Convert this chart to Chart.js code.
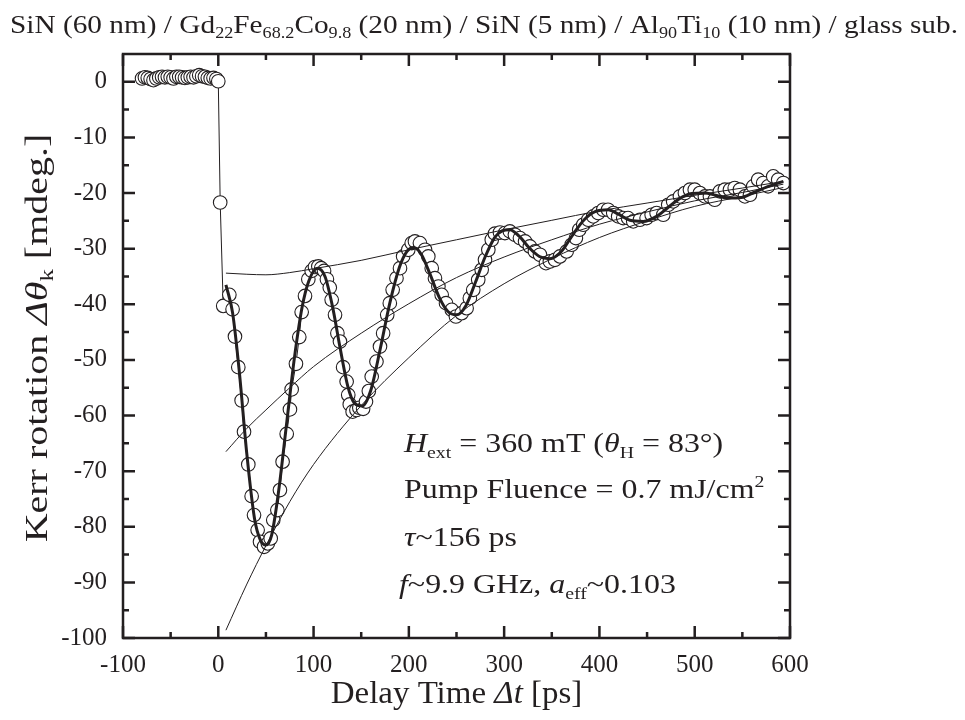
<!DOCTYPE html>
<html>
<head>
<meta charset="utf-8">
<script src="https://cdn.jsdelivr.net/npm/chart.js@4.4.0/dist/chart.umd.min.js"></script>
<style>
  html, body { margin: 0; padding: 0; background: #fff; }
  #wrap { width: 965px; height: 720px; }
</style>
</head>
<body>
<div id="wrap"><canvas id="kerr" width="965" height="720"></canvas></div>
<script>
// measured Kerr rotation (open circles)
const measX = [-80,-77,-74,-71,-68,-65,-62,-59,-56,-53,-50,-47,-44,-41,-38,-35,-32,-29,-26,-23,-20,-17,-14,-11,-8,-5,-2,0,
  2,5.2,11.6,15,17.5,21,24.5,27,31.5,35,37.5,41.3,43.8,48,52,55,57.7,62,64.7,67.5,71.8,75.2,77,81.5,85,87.5,91,94.5,98,101.5,105,108,111,114,117,119,122.5,125,127.7,131,134.7,136.4,138,141,145,148,152,155,158,
  161,166,169.7,173,177.3,180,183,187,190.7,194,199.4,203,206.4,211.6,217,220.4,224,227.4,231,234.4,239,245,249.4,255.4,260.6,264,267.6,272.8,276.4,279.9,283.4,287,290.3,295.6,300.8,306,311.3,316.6,322,327,332.3,337.6,343.9,
  348,353.3,358.6,365.6,370.8,375.3,378.8,383,388.3,393.5,398.7,404,409,414.5,419.7,425,430,435.5,442.5,449.5,454.8,460,467,472.2,477.4,484.5,489.7,495,500,505.4,510.7,516,521,526.4,531.6,537,542,547.4,552.7,558,561.4,566.6,571.9,577,582.4,587.6,593];
const measY = [0.6,0.8,0.7,0.5,0.3,0.6,0.8,0.9,0.8,0.9,0.8,0.6,0.9,0.9,0.8,0.7,0.8,0.9,0.8,1.0,1.2,1.0,0.9,0.7,0.6,0.7,0.5,0.1,
  -21.7,-40.3,-38.3,-40.9,-45.8,-51.3,-57.3,-62.9,-68.8,-74.5,-77.9,-80.6,-82.7,-83.6,-83,-82.1,-78.8,-77,-73.4,-68.3,-63.3,-58.9,-55.3,-50.7,-45.9,-41.4,-38.5,-35.5,-34,-33.3,-33.2,-33.5,-34,-35.5,-37,-39.2,-41.9,-45.2,-46.7,-51.3,-53.9,-56.3,-58,-59.3,-59,-58.6,-58.8,-57.5,-55.6,
  -53,-50.3,-47.6,-45.2,-41.9,-39.8,-37.4,-35.3,-33.5,-31.4,-30.2,-29,-28.7,-29,-30.2,-31.4,-33.5,-35.3,-36.8,-38.3,-39.8,-41,-42.2,-41.6,-40.7,-38.9,-37.4,-35.6,-33.8,-32,-30.2,-28.4,-27.3,-27.1,-27.2,-26.9,-27.5,-28.1,-28.7,-29.6,-30.5,-31.1,-32.6,
  -32.3,-32,-31.4,-30.5,-29.3,-28.1,-26.6,-25.7,-24.8,-24.2,-23.6,-23,-23,-23.6,-24.2,-24.5,-24.5,-25.1,-24.8,-24.5,-23.9,-23.6,-23.9,-22.1,-21.5,-20.6,-20,-19.4,-19.4,-20,-20.6,-20.6,-21.2,-19.7,-19.4,-19.4,-19.1,-19.4,-20.6,-20.3,-18.8,-17.6,-18.2,-18.8,-17,-17.6,-18.2];

// damped precession fit (thick line)
const fitX = [8,15,22,30,38,44,50,56,63,72,80,88,95,104,112,120,128,136,143,151,160,170,180,190,198,205,213,222,232,241,250,260,270,280,290,298,306,316,326,337,348,360,372,384,396,409,420,432,446,460,472,484,497,510,522,535,549,562,576,593];
const fitY = [-36.5,-41.5,-52,-67,-78.5,-82.3,-83.3,-81.5,-74,-61,-49.5,-40.5,-35.8,-33.5,-35,-40.5,-48,-54.8,-57.8,-58.3,-55.5,-48,-39.8,-33.4,-30.5,-29.8,-31,-34.5,-38.8,-41.3,-41.9,-40.2,-36,-31.5,-28,-26.8,-26.6,-27.8,-29.8,-31.4,-31.8,-30.5,-27.5,-24.8,-23.3,-23,-23.8,-24.9,-25.1,-24.2,-22.6,-21,-20.1,-20,-20.4,-20.9,-20.8,-19.9,-18.9,-17.9];

// envelopes and background (thin lines)
const envX = [8,30,50,75,100,150,200,250,300,350,400,450,500,550,593];
const upperY = [-34.4,-34.6,-34.7,-34.3,-33.6,-32.1,-30.2,-28.4,-26.6,-24.9,-23.2,-21.8,-20.4,-19.1,-17.9];
const centerY = [-66.5,-62.3,-59,-55,-51.2,-45.2,-39.9,-35.2,-31.5,-28.4,-25.6,-23.4,-21.4,-19.9,-18.4];
const lowerY = [-98.6,-90.3,-83.4,-75.5,-68.8,-58.2,-49.6,-42,-36.3,-31.8,-28,-25,-22.4,-20.6,-19];

const xTicks = [-100,0,100,200,300,400,500,600];
const xMinor = [-50,50,150,250,350,450,550];
const yTicks = [0,-10,-20,-30,-40,-50,-60,-70,-80,-90,-100];
const yMinor = [-5,-15,-25,-35,-45,-55,-65,-75,-85,-95];

const titleParts = [['SiN (60 nm) / Gd',''],['22','sub'],['Fe',''],['68.2','sub'],['Co',''],['9.8','sub'],[' (20 nm) / SiN (5 nm) / Al',''],['90','sub'],['Ti',''],['10','sub'],[' (10 nm) / glass sub.','']];
const noteLines = [
  [['H','i'],['ext','sub'],[' = 360 mT (',''],['θ','i'],['H','sub'],[' = 83°)','']],
  [['Pump Fluence = 0.7 mJ/cm',''],['2','sup']],
  [['τ','i'],['~156 ps','']],
  [['f','i'],['~9.9 GHz, ',''],['a','i'],['eff','sub'],['~0.103','']]
];
const xTitle = [['Delay Time ',''],['Δt','i'],[' [ps]','']];
const yTitle = [['Kerr rotation ',''],['Δθ','i'],['k','sub'],[' [mdeg.]','']];

const ink = '#231f20';
const serif = '"Liberation Serif", "Times New Roman", serif';

const pts = (xs, ys) => xs.map((x, i) => ({ x: x, y: ys[i] }));

function partFont(style, size) {
  const small = style === 'sub' || style === 'sup';
  return (style === 'i' ? 'italic ' : '') + (small ? size * 0.62 : size) + 'px ' + serif;
}

function richWidth(ctx, parts, size) {
  let w = 0;
  parts.forEach(p => { ctx.font = partFont(p[1], size); w += ctx.measureText(p[0]).width; });
  return w;
}

// draws mixed text at baseline (x, y); align 'left' or 'center'
function drawRich(ctx, parts, x, y, size, align, sx) {
  ctx.save();
  ctx.translate(x, y);
  ctx.scale(sx, 1);
  ctx.fillStyle = ink;
  ctx.textBaseline = 'alphabetic';
  ctx.textAlign = 'left';
  let cx = align === 'center' ? -richWidth(ctx, parts, size) / 2 : 0;
  parts.forEach(p => {
    ctx.font = partFont(p[1], size);
    let dy = 0;
    if (p[1] === 'sub') dy = size * 0.2;
    if (p[1] === 'sup') dy = -size * 0.38;
    ctx.fillText(p[0], cx, dy);
    cx += ctx.measureText(p[0]).width;
  });
  ctx.restore();
}

const framePlugin = {
  id: 'frame',
  afterDatasetsDraw(chart) {
    const { ctx, chartArea: a, scales: { x, y } } = chart;
    ctx.save();
    ctx.strokeStyle = ink;
    ctx.lineWidth = 2.5;
    ctx.beginPath();
    const xt = (v, len) => {
      const px = x.getPixelForValue(v);
      ctx.moveTo(px, a.bottom); ctx.lineTo(px, a.bottom - len);
      ctx.moveTo(px, a.top); ctx.lineTo(px, a.top + len);
    };
    const yt = (v, len) => {
      const py = y.getPixelForValue(v);
      ctx.moveTo(a.left, py); ctx.lineTo(a.left + len, py);
      ctx.moveTo(a.right, py); ctx.lineTo(a.right - len, py);
    };
    xTicks.forEach(v => xt(v, 12));
    xMinor.forEach(v => xt(v, 6));
    yTicks.forEach(v => yt(v, 12));
    yMinor.forEach(v => yt(v, 6));
    ctx.stroke();
    ctx.strokeRect(a.left, a.top, a.right - a.left, a.bottom - a.top);
    ctx.restore();
  }
};

const textPlugin = {
  id: 'texts',
  afterDraw(chart) {
    const ctx = chart.ctx;
    const a = chart.chartArea;
    // heading across the top
    const tw = richWidth(ctx, titleParts, 26);
    drawRich(ctx, titleParts, 10, 33, 26, 'left', 948 / tw);
    // parameters box
    const base = [452, 498, 546, 593];
    noteLines.forEach((ln, i) => drawRich(ctx, ln, i === 3 ? 399 : 404, base[i], 28, 'left', 1.14));
    // axis titles
    drawRich(ctx, xTitle, (a.left + a.right) / 2, 703, 32, 'center', 1.03);
    ctx.save();
    ctx.translate(47, 338);
    ctx.rotate(-Math.PI / 2);
    drawRich(ctx, yTitle, 0, 0, 32, 'center', 1.25);
    ctx.restore();
  }
};

new Chart(document.getElementById('kerr'), {
  type: 'line',
  data: {
    datasets: [
      {
        label: 'fit',
        data: pts(fitX, fitY),
        borderColor: ink,
        borderWidth: 3,
        pointRadius: 0,
        fill: false,
        cubicInterpolationMode: 'monotone',
        order: 1
      },
      {
        label: 'upper',
        data: pts(envX, upperY),
        borderColor: ink,
        borderWidth: 1,
        pointRadius: 0,
        fill: false,
        cubicInterpolationMode: 'monotone',
        order: 2
      },
      {
        label: 'center',
        data: pts(envX, centerY),
        borderColor: ink,
        borderWidth: 1,
        pointRadius: 0,
        fill: false,
        cubicInterpolationMode: 'monotone',
        order: 2
      },
      {
        label: 'lower',
        data: pts(envX, lowerY),
        borderColor: ink,
        borderWidth: 1,
        pointRadius: 0,
        fill: false,
        cubicInterpolationMode: 'monotone',
        order: 2
      },
      {
        label: 'data',
        data: pts(measX, measY),
        borderColor: ink,
        borderWidth: 1,
        tension: 0,
        pointStyle: 'circle',
        pointRadius: 6.8,
        pointBorderWidth: 1.1,
        pointBorderColor: ink,
        pointBackgroundColor: '#fff',
        fill: false,
        order: 5
      }
    ]
  },
  options: {
    responsive: false,
    animation: false,
    devicePixelRatio: 1,
    layout: { padding: { top: 54, right: 175, left: 0, bottom: 0 } },
    plugins: { legend: { display: false }, tooltip: { enabled: false } },
    scales: {
      x: {
        type: 'linear',
        min: -100,
        max: 600,
        grid: { display: false, drawTicks: false },
        border: { display: false },
        afterBuildTicks: s => { s.ticks = xTicks.map(v => ({ value: v })); },
        afterFit: s => { s.height = 82; },
        ticks: { font: { family: serif, size: 25 }, color: ink, padding: 12, maxRotation: 0, autoSkip: false }
      },
      y: {
        type: 'linear',
        min: -100,
        max: 5,
        grid: { display: false, drawTicks: false },
        border: { display: false },
        afterBuildTicks: s => { s.ticks = yTicks.map(v => ({ value: v })); },
        afterFit: s => { s.width = 123; },
        ticks: { font: { family: serif, size: 25 }, color: ink, padding: 16, autoSkip: false }
      }
    }
  },
  plugins: [framePlugin, textPlugin]
});
</script>
</body>
</html>
